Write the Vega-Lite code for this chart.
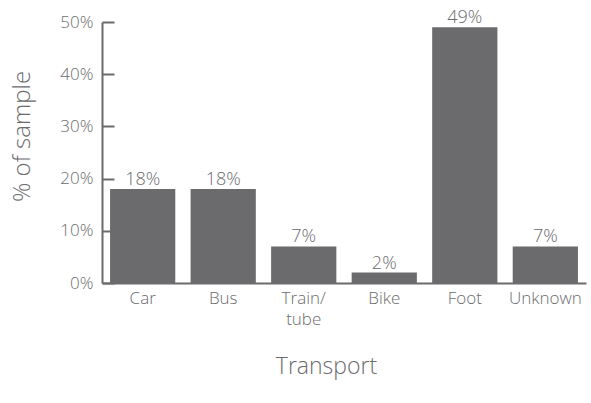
{
  "$schema": "https://vega.github.io/schema/vega-lite/v6.json",
  "width": 484,
  "height": 261,
  "autosize": "none",
  "padding": {"left": 102, "top": 22, "right": 5, "bottom": 120},
  "background": "white",
  "config": {
    "view": {"stroke": null},
    "font": "Open Sans",
    "axis": {"grid": false, "domainColor": "#6b6b6e", "tickColor": "#6b6b6e", "labelColor": "#6b6b6e", "titleColor": "#6b6b6e", "labelFont": "Open Sans", "titleFont": "Open Sans", "labelFontWeight": 300, "titleFontWeight": 300}
  },
  "data": {
    "values": [
      {"mode": "Car", "share": 0.18},
      {"mode": "Bus", "share": 0.18},
      {"mode": "Train/ tube", "share": 0.07},
      {"mode": "Bike", "share": 0.02},
      {"mode": "Foot", "share": 0.49},
      {"mode": "Unknown", "share": 0.07}
    ]
  },
  "encoding": {
    "x": {
      "field": "mode", "type": "nominal", "sort": null,
      "scale": {"paddingInner": 0.19, "paddingOuter": 0.1},
      "axis": {
        "title": "Transport", "labelAngle": 0, "ticks": false,
        "domainWidth": 2, "labelFontSize": 17, "labelPadding": 7,
        "labelLineHeight": 21, "labelBaseline": "top",
        "labelExpr": "datum.value == 'Train/ tube' ? ['Train/', 'tube'] : datum.value",
        "titleFontSize": 23, "titleX": 224, "titleY": 90, "titleBaseline": "alphabetic"
      }
    },
    "y": {
      "field": "share", "type": "quantitative",
      "scale": {"domain": [0, 0.5]},
      "axis": {
        "title": "% of sample", "values": [0, 0.1, 0.2, 0.3, 0.4, 0.5],
        "format": ".0%",
        "domainWidth": 2, "tickWidth": 2, "tickSize": -12,
        "labelPadding": 21, "labelFontSize": 17,
        "titleFontSize": 24, "titleX": -80, "titleY": 114, "titleAlign": "center", "titleBaseline": "middle", "titleAngle": -90
      }
    }
  },
  "layer": [
    {"mark": {"type": "bar", "color": "#6b6b6e"}},
    {
      "mark": {"type": "text", "baseline": "alphabetic", "dy": -4, "fontSize": 18, "fontWeight": 300, "color": "#6b6b6e", "font": "Open Sans"},
      "encoding": {"text": {"field": "share", "type": "quantitative", "format": ".0%"}}
    }
  ]
}
